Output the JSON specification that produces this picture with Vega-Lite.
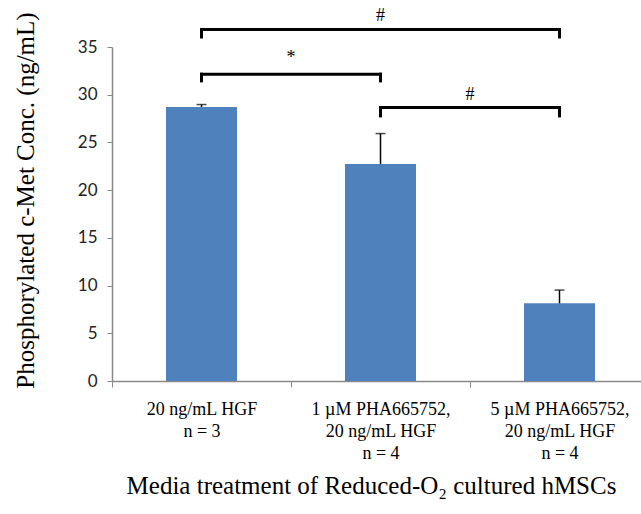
{
  "$schema": "https://vega.github.io/schema/vega-lite/v6.json",
  "autosize": "none",
  "padding": {"left": 112, "top": 47, "right": 0, "bottom": 133},
  "width": 537,
  "height": 334,
  "background": "white",
  "config": {"view": {"stroke": null}},
  "datasets": {
    "bars": [
      {"group": "20 ng/mL HGF|n = 3", "value": 28.72, "upper": 28.97},
      {"group": "1 µM PHA665752,|20 ng/mL HGF|n = 4", "value": 22.75, "upper": 25.93},
      {"group": "5 µM PHA665752,|20 ng/mL HGF|n = 4", "value": 8.14, "upper": 9.53}
    ],
    "spans": [
      {"from": "20 ng/mL HGF|n = 3", "to": "5 µM PHA665752,|20 ng/mL HGF|n = 4", "y": 36.83},
      {"from": "20 ng/mL HGF|n = 3", "to": "1 µM PHA665752,|20 ng/mL HGF|n = 4", "y": 32.15},
      {"from": "1 µM PHA665752,|20 ng/mL HGF|n = 4", "to": "5 µM PHA665752,|20 ng/mL HGF|n = 4", "y": 28.66}
    ],
    "ends": [
      {"group": "20 ng/mL HGF|n = 3", "top": 36.83, "bottom": 36.05},
      {"group": "5 µM PHA665752,|20 ng/mL HGF|n = 4", "top": 36.83, "bottom": 36.05},
      {"group": "20 ng/mL HGF|n = 3", "top": 32.15, "bottom": 31.45},
      {"group": "1 µM PHA665752,|20 ng/mL HGF|n = 4", "top": 32.15, "bottom": 31.45},
      {"group": "1 µM PHA665752,|20 ng/mL HGF|n = 4", "top": 28.66, "bottom": 27.78},
      {"group": "5 µM PHA665752,|20 ng/mL HGF|n = 4", "top": 28.66, "bottom": 27.78}
    ],
    "centerMarks": [
      {"group": "1 µM PHA665752,|20 ng/mL HGF|n = 4", "y": 38.3, "text": "#"}
    ],
    "edgeMarks": [
      {"group": "20 ng/mL HGF|n = 3", "y": 33.8, "text": "*"},
      {"group": "1 µM PHA665752,|20 ng/mL HGF|n = 4", "y": 30.0, "text": "#"}
    ]
  },
  "encoding": {
    "x": {
      "field": "group",
      "type": "nominal",
      "sort": null,
      "scale": {
        "domain": ["20 ng/mL HGF|n = 3", "1 µM PHA665752,|20 ng/mL HGF|n = 4", "5 µM PHA665752,|20 ng/mL HGF|n = 4"],
        "paddingInner": 0,
        "paddingOuter": 0
      },
      "axis": {
        "title": "Media treatment of Reduced-O₂ cultured hMSCs",
        "titleFont": "Liberation Serif",
        "titleFontSize": 25,
        "titleFontWeight": "normal",
        "titleColor": "#000",
        "titleBaseline": "middle",
        "titleX": 259,
        "titleY": 104,
        "labelAngle": 0,
        "labelExpr": "split(datum.label, '|')",
        "labelFont": "Liberation Serif",
        "labelFontSize": 18,
        "labelColor": "#000",
        "labelLineHeight": 22,
        "labelPadding": 13,
        "labelBaseline": "top",
        "tickBand": "extent",
        "tickSize": 6,
        "tickColor": "#888",
        "domainColor": "#888",
        "domainWidth": 1.5,
        "grid": false
      }
    }
  },
  "layer": [
    {
      "data": {"name": "bars"},
      "mark": {"type": "bar", "size": 71, "color": "#4F81BD"},
      "encoding": {
        "y": {
          "field": "value",
          "type": "quantitative",
          "scale": {"domain": [0, 35], "nice": false},
          "axis": {
            "title": "Phosphorylated c-Met Conc. (ng/mL)",
            "titleFont": "Liberation Serif",
            "titleFontSize": 25,
            "titleFontWeight": "normal",
            "titleColor": "#000",
            "titleBaseline": "middle",
            "titleX": -87,
            "titleY": 153,
            "values": [0, 5, 10, 15, 20, 25, 30, 35],
            "labelFont": "Lato",
            "labelFontSize": 17,
            "labelColor": "#222",
            "labelPadding": 10,
            "tickSize": 5,
            "tickColor": "#888",
            "domainColor": "#888",
            "domainWidth": 1.5,
            "grid": false
          }
        }
      }
    },
    {
      "data": {"name": "bars"},
      "mark": {"type": "rule", "color": "#000", "strokeWidth": 1.5},
      "encoding": {
        "y": {"field": "value", "type": "quantitative"},
        "y2": {"field": "upper"}
      }
    },
    {
      "data": {"name": "bars"},
      "mark": {"type": "tick", "orient": "horizontal", "color": "#000", "size": 10, "thickness": 1.5},
      "encoding": {
        "y": {"field": "upper", "type": "quantitative"}
      }
    },
    {
      "data": {"name": "spans"},
      "mark": {"type": "rule", "color": "#000", "strokeWidth": 3, "strokeCap": "square", "clip": false},
      "encoding": {
        "x": {"field": "from", "type": "nominal"},
        "x2": {"field": "to"},
        "y": {"field": "y", "type": "quantitative"}
      }
    },
    {
      "data": {"name": "ends"},
      "mark": {"type": "rule", "color": "#000", "strokeWidth": 3, "strokeCap": "square", "clip": false},
      "encoding": {
        "y": {"field": "top", "type": "quantitative"},
        "y2": {"field": "bottom"}
      }
    },
    {
      "data": {"name": "centerMarks"},
      "mark": {"type": "text", "font": "Liberation Serif", "fontSize": 18, "color": "#000", "baseline": "middle", "clip": false},
      "encoding": {
        "y": {"field": "y", "type": "quantitative"},
        "text": {"field": "text"}
      }
    },
    {
      "data": {"name": "edgeMarks"},
      "mark": {"type": "text", "font": "Liberation Serif", "fontSize": 18, "color": "#000", "baseline": "middle", "clip": false},
      "encoding": {
        "x": {"field": "group", "type": "nominal", "bandPosition": 1},
        "y": {"field": "y", "type": "quantitative"},
        "text": {"field": "text"}
      }
    }
  ]
}
